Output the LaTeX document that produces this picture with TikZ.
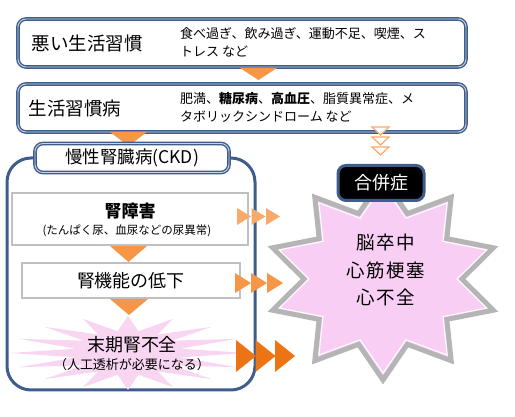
\documentclass[tikz,border=0pt]{standalone}
\usepackage{fontspec}
\setmainfont{Noto Sans CJK JP}
\usetikzlibrary{positioning}
\definecolor{BoxBlue}{HTML}{3E5D8C}
\definecolor{BoxLine}{HTML}{C8D3E3}
\definecolor{FlowOrange}{HTML}{F79646}
\definecolor{PaleOrange}{HTML}{F8AA6C}
\definecolor{DeepOrange}{HTML}{EC7414}
\definecolor{StarGray}{HTML}{B5B5B5}
\definecolor{StarPink}{HTML}{F8CEF5}
\definecolor{EndPink}{HTML}{F8D6F2}
\definecolor{StageGray}{HTML}{C0C0C0}
\newcommand\fsz[1]{\fontsize{#1}{#1}\selectfont}

\begin{document}
\begin{tikzpicture}[x=1pt,y=-1pt,
    habitbox/.style={draw=BoxBlue, double=BoxLine, double distance=0.9pt, line width=1.4pt,
      rounded corners=8pt, fill=white, minimum width=448pt, minimum height=48pt},
    stagebox/.style={draw=StageGray, line width=1.2pt, fill=white},
    tagbox/.style={draw=BoxBlue, line width=3pt, rounded corners=8pt},
    hollowtri/.style={draw=PaleOrange, line width=1.2pt, fill=white}]
    \useasboundingbox (0,0) rectangle (515,417);
    % top two boxes
    \node[habitbox] (habit) at (242,43) {};
    \node[anchor=west] (habitname) at (28,43) {\fsz{18.5}悪い生活習慣};
    \node[anchor=west, align=left, inner sep=0pt] (habitlist) at (180,42)
      {\fsz{13}食べ過ぎ、飲み過ぎ、運動不足、喫煙、ス\\[6pt]\fsz{13}トレス\ など};
    \node[habitbox] (disease) at (242,108) {};
    \node[anchor=west] (diseasename) at (25,108) {\fsz{18.5}生活習慣病};
    \node[anchor=west, align=left, inner sep=0pt] (diseaselist) at (180,107)
      {\fsz{13}肥満、\textbf{糖尿病}、\textbf{高血圧}、脂質異常症、メ\\[6pt]\fsz{13}タボリックシンドローム\ など};
    \fill[FlowOrange] (240,68) -- (277,68) -- (258.5,80) -- cycle;
    % CKD frame
    \draw[BoxBlue, line width=3pt, rounded corners=24pt, fill=white] (7,158) rectangle (255,390);
    \fill[FlowOrange] (110,132) -- (147,132) -- (128.5,146) -- cycle;
    \node[draw=BoxBlue, double=BoxLine, double distance=0.9pt, line width=1.4pt, rounded corners=8pt,
      fill=white, minimum width=194pt, minimum height=29pt] (ckd) at (132,158) {};
    \node (ckdname) at (ckd) {\fsz{17.5}慢性腎臓病(CKD)};
    % stages
    \node[stagebox, minimum width=236pt, minimum height=52pt] (damage) at (130,219) {};
    \node (damagename) at (130,211) {\fsz{17}\textbf{腎障害}};
    \node (damagenote) at (127,231) {\fsz{11.5}(たんぱく尿、血尿などの尿異常)};
    \fill[FlowOrange] (110,246) -- (147,246) -- (128.5,262) -- cycle;
    \node[stagebox, minimum width=218pt, minimum height=35pt] (decline) at (131,280.5) {};
    \node (declinename) at (decline) {\fsz{18}腎機能の低下};
    \fill[FlowOrange] (110,299) -- (148,299) -- (129,315) -- cycle;
    \fill[EndPink] plot[samples at={0,...,31}]
      ({128+118*(1-0.55*mod(\x,2))*cos(11.25*\x)}, {353+37*(1-0.4*mod(\x,2))*sin(11.25*\x)}) -- cycle;
    \node (endname) at (132,345) {\fsz{18}末期腎不全};
    \node (endnote) at (132,365) {\fsz{13}（人工透析が必要になる）};
    % complications
    \draw[StarGray, line width=5pt, fill=StarPink] plot[samples at={0,...,19}]
      ({383+116*(1-0.32*mod(\x,2))*cos(90+18*\x)}, {279-101*(1-0.32*mod(\x,2))*sin(90+18*\x)}) -- cycle;
    \draw[white, line width=1pt] plot[samples at={0,...,19}]
      ({383+109*(1-0.32*mod(\x,2))*cos(90+18*\x)}, {279-94*(1-0.32*mod(\x,2))*sin(90+18*\x)}) -- cycle;
    \node[tagbox, fill=black, minimum width=86pt, minimum height=35pt] (comp) at (381,183) {};
    \node[text=white] (compname) at (comp) {\fsz{18}合併症};
    \node[align=center] (events) at (386,270)
      {\addfontfeatures{LetterSpace=8}\fsz{18.5}脳卒中\\[9pt]\addfontfeatures{LetterSpace=8}\fsz{18.5}心筋梗塞\\[9pt]\addfontfeatures{LetterSpace=8}\fsz{18.5}心不全};
    % arrows to complications
    \foreach \k in {0,1,2}
      \fill[PaleOrange] ({237+14.5*\k},208) -- ++(14,8.5) -- ++(-14,8.5) -- cycle;
    \foreach \k in {0,1,2}
      \fill[FlowOrange] ({235+16*\k},273) -- ++(16,10) -- ++(-16,10) -- cycle;
    \foreach \k in {0,1,2}
      \fill[DeepOrange] ({236+19.5*\k},340) -- ++(20,16) -- ++(-20,16) -- cycle;
    \foreach \k in {0,1,2}
      \draw[hollowtri] (372,{127+10*\k}) -- ++(17,0) -- ++(-8.5,8) -- cycle;
\end{tikzpicture}
\end{document}
